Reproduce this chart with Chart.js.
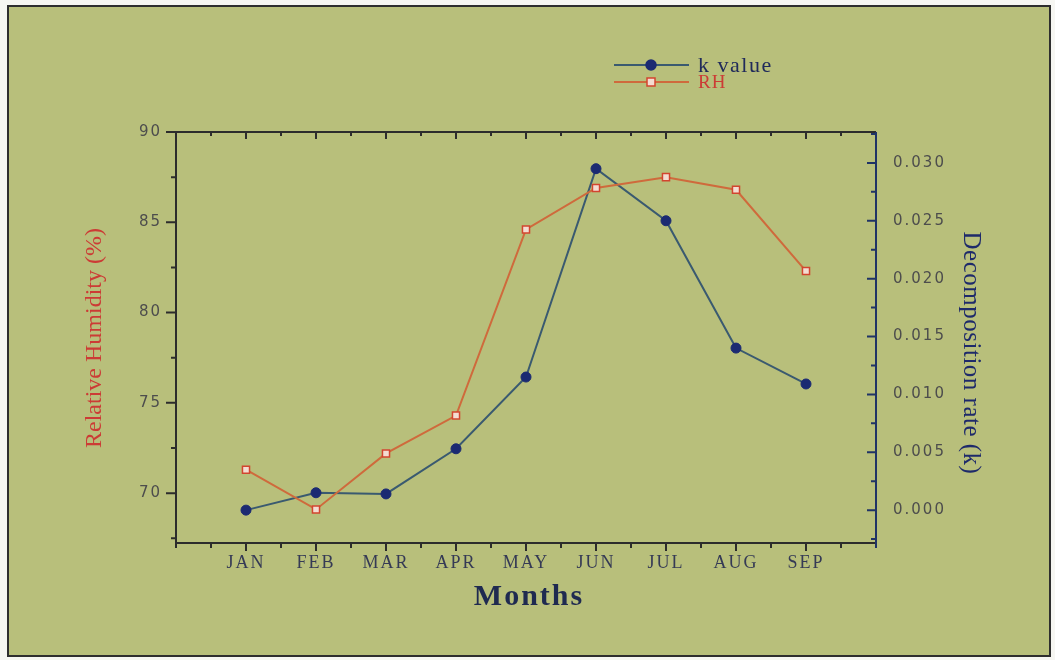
<!DOCTYPE html>
<html>
<head>
<meta charset="utf-8">
<script src="https://cdn.jsdelivr.net/npm/chart.js@4.4.1/dist/chart.umd.min.js"></script>
<style>
  html, body { margin: 0; padding: 0; background: #f6f6f2; }
  #wrap { width: 1055px; height: 660px; }
</style>
</head>
<body>
<div id="wrap"><canvas id="chartCanvas"></canvas></div>
<script>
// data
const months = ['JAN', 'FEB', 'MAR', 'APR', 'MAY', 'JUN', 'JUL', 'AUG', 'SEP'];
const rhValues = [71.3, 69.1, 72.2, 74.3, 84.6, 86.9, 87.5, 86.8, 82.3];
const kValues = [0.0000, 0.0015, 0.0014, 0.0053, 0.0115, 0.0295, 0.0250, 0.0140, 0.0109];
const rhTicks = [70, 75, 80, 85, 90];
const kTicks = [0.000, 0.005, 0.010, 0.015, 0.020, 0.025, 0.030];

const rhColor = '#cf6a3c';
const kLineColor = '#3a5a70';
const kMarkColor = '#1b2a72';
const frameColor = '#2c2c2c';

const ctx = document.getElementById('chartCanvas').getContext('2d');

// text helper (letter spaced like the original scan)
function drawText(c, str, x, y, font, color, spacing, align) {
    c.save();
    c.font = font;
    c.fillStyle = color;
    c.letterSpacing = spacing + 'px';
    c.textAlign = align || 'left';
    c.textBaseline = 'middle';
    c.fillText(str, x, y);
    c.restore();
}

const framePlugin = {
    id: 'framePlugin',
    beforeDraw(chart) {
        const c = chart.ctx;
        c.save();
        c.fillStyle = '#f6f6f2';
        c.fillRect(0, 0, chart.width, chart.height);
        c.fillStyle = '#b8bf7b';
        c.fillRect(8, 6, 1042, 650);
        c.strokeStyle = '#2e2e2e';
        c.lineWidth = 2;
        c.strokeRect(8, 6, 1042, 650);
        c.restore();
        // the scan's tick labels are widely spaced
        c.letterSpacing = '2px';
    },
    beforeDatasetsDraw(chart) {
        const c = chart.ctx;
        const a = chart.chartArea;
        const x = chart.scales.x, y = chart.scales.y, y1 = chart.scales.y1;
        c.save();
        c.lineWidth = 2;
        c.strokeStyle = frameColor;
        c.beginPath();
        // left, bottom, top
        c.moveTo(a.left, a.top); c.lineTo(a.left, a.bottom + 5);
        c.moveTo(a.left, a.bottom); c.lineTo(a.right, a.bottom);
        c.moveTo(a.left, a.top); c.lineTo(a.right, a.top);
        // x ticks: bottom outward, top inward
        for (let i = -0.5; i <= 8.5; i += 0.5) {
            const px = x.getPixelForValue(i);
            const major = Number.isInteger(i);
            c.moveTo(px, a.bottom); c.lineTo(px, a.bottom + (major ? 8 : 5));
            c.moveTo(px, a.top); c.lineTo(px, a.top + (major ? 7 : 4));
        }
        // left ticks outward
        for (let v = 67.5; v <= 90; v += 2.5) {
            const py = y.getPixelForValue(v);
            const major = v % 5 === 0;
            c.moveTo(a.left, py); c.lineTo(a.left - (major ? 10 : 5), py);
        }
        c.stroke();
        // right axis, navy, ticks inward
        c.strokeStyle = '#1f3366';
        c.beginPath();
        c.moveTo(a.right, a.top); c.lineTo(a.right, a.bottom + 5);
        for (let v = -0.0025; v <= 0.0326; v += 0.0025) {
            const py = y1.getPixelForValue(v);
            const major = Math.abs(Math.round(v / 0.005) * 0.005 - v) < 1e-6;
            c.moveTo(a.right, py); c.lineTo(a.right - (major ? 9 : 5), py);
        }
        c.stroke();
        c.restore();
    },
    afterDraw(chart) {
        const c = chart.ctx;
        c.letterSpacing = '0px';
        // axis titles
        c.save();
        c.translate(95, 338);
        c.rotate(-Math.PI / 2);
        drawText(c, 'Relative Humidity (%)', 0, 0, '24px "Liberation Serif"', '#cc3b35', 0, 'center');
        c.restore();
        c.save();
        c.translate(971, 353);
        c.rotate(Math.PI / 2);
        drawText(c, 'Decomposition rate (k)', 0, 0, '25px "Liberation Serif"', '#1e2a6a', 0.5, 'center');
        c.restore();
        drawText(c, 'Months', 529, 597, 'bold 30px "Liberation Serif"', '#1f2a50', 2, 'center');

        // legend
        const ds = chart.data.datasets;
        const rows = [
            { d: ds[1], y: 65, label: 'k value', font: '22px "Liberation Serif"', color: '#202a5a', sp: 1.5 },
            { d: ds[0], y: 82, label: 'RH', font: '19px "Liberation Serif"', color: '#cc3b35', sp: 1 }
        ];
        rows.forEach(r => {
            c.save();
            c.strokeStyle = r.d.borderColor;
            c.lineWidth = 2;
            c.beginPath();
            c.moveTo(614, r.y); c.lineTo(689, r.y);
            c.stroke();
            c.fillStyle = r.d.pointBackgroundColor;
            c.strokeStyle = r.d.pointBorderColor;
            c.lineWidth = 1.5;
            if (r.d.pointStyle === 'circle') {
                c.beginPath(); c.arc(651, r.y, 5, 0, Math.PI * 2); c.fill(); c.stroke();
            } else {
                c.fillRect(647, r.y - 4, 8, 8); c.strokeRect(647, r.y - 4, 8, 8);
            }
            c.restore();
            drawText(c, r.label, 698, r.y + 1, r.font, r.color, r.sp, 'left');
        });
    }
};

new Chart(ctx, {
    type: 'line',
    data: {
        datasets: [{
            label: 'RH',
            data: months.map((m, i) => ({ x: i, y: rhValues[i] })),
            yAxisID: 'y',
            borderColor: rhColor,
            borderWidth: 2,
            pointStyle: 'rect',
            pointRadius: 5,
            pointBackgroundColor: '#f4dcd2',
            pointBorderColor: '#d2452f',
            pointBorderWidth: 1.5,
            tension: 0
        }, {
            label: 'k value',
            data: months.map((m, i) => ({ x: i, y: kValues[i] })),
            yAxisID: 'y1',
            borderColor: kLineColor,
            borderWidth: 2,
            pointStyle: 'circle',
            pointRadius: 5,
            pointBackgroundColor: kMarkColor,
            pointBorderColor: kMarkColor,
            pointBorderWidth: 1,
            tension: 0
        }]
    },
    options: {
        responsive: true,
        maintainAspectRatio: false,
        animation: false,
        layout: { padding: { top: 132, left: 0, right: 0, bottom: 0 } },
        plugins: {
            legend: { display: false },
            tooltip: { enabled: false }
        },
        scales: {
            x: {
                type: 'linear',
                min: -1,
                max: 9,
                grid: { display: false, drawTicks: false },
                border: { display: false },
                afterBuildTicks: s => { s.ticks = months.map((m, i) => ({ value: i })); },
                afterFit: s => { s.height = 117; },
                ticks: {
                    autoSkip: false,
                    maxRotation: 0,
                    padding: 9,
                    color: '#353a55',
                    font: { family: '"Liberation Serif"', size: 18 },
                    callback: v => months[v] ?? ''
                }
            },
            y: {
                position: 'left',
                min: 67.24,
                max: 90,
                grid: { display: false, drawTicks: false },
                border: { display: false },
                afterBuildTicks: s => { s.ticks = rhTicks.map(v => ({ value: v })); },
                afterFit: s => { s.width = 176; },
                ticks: {
                    padding: 14,
                    color: '#4d4d4d',
                    font: { family: '"DejaVu Sans"', size: 15 },
                    callback: v => String(v)
                }
            },
            y1: {
                position: 'right',
                min: -0.00284,
                max: 0.03267,
                grid: { display: false, drawTicks: false },
                border: { display: false },
                afterBuildTicks: s => { s.ticks = kTicks.map(v => ({ value: v })); },
                afterFit: s => { s.width = 179; },
                ticks: {
                    padding: 17,
                    color: '#4d4d4d',
                    font: { family: '"DejaVu Sans"', size: 15 },
                    callback: v => v.toFixed(3)
                }
            }
        }
    },
    plugins: [framePlugin]
});
</script>
</body>
</html>
